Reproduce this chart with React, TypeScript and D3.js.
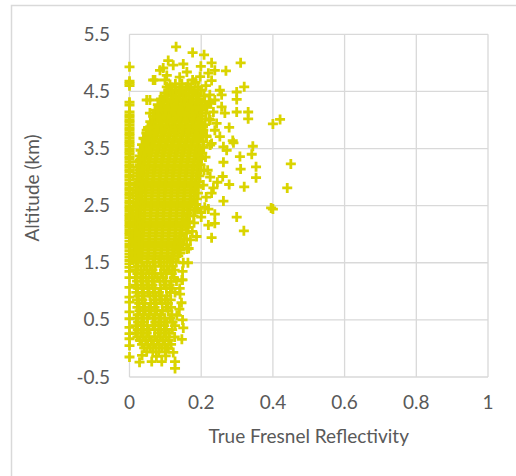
import React from "react";
import * as d3 from "d3";

const xTicks = [0, 0.2, 0.4, 0.6, 0.8, 1];
const yTicks = [-0.5, 0.5, 1.5, 2.5, 3.5, 4.5, 5.5];
const xTitle = "True Fresnel Reflectivity";
const yTitle = "Altitude (km)";

// returns with zero reflectivity (altitude, km)
const zeroReflectivityAltitudes = [
  4.93, 4.68, 4.64, 4.6, 4.31, 4.26, 4.14, 4.09, 4.05, 4.0, 3.96, 3.91, 3.86, 3.82,
  3.77, 3.73, 3.68, 3.63, 3.59, 3.55, 3.5, 3.45, 3.41, 3.36, 3.32, 3.27, 3.22, 3.18,
  3.13, 3.09, 3.04, 3.0, 2.95, 2.9, 2.86, 2.81, 2.77, 2.72, 2.68, 2.63, 2.58, 2.54,
  2.49, 2.45, 2.4, 2.35, 2.31, 2.26, 2.22, 2.17, 2.13, 2.08, 2.03, 1.99, 1.94, 1.88,
  1.82, 1.77, 1.71, 1.65, 1.6, 1.54, 1.48, 1.42, 1.35, 1.24, 1.07, 0.9, 0.81, 0.64,
  0.52, 0.37, 0.26, 0.17, 0.05, -0.15,
];

// dense cloud 2.5 - 4.65 km: [altitude, reflectivities]
const denseUpper: [number, number[]][] = [
  [4.63, [0.128, 0.146, 0.163]],
  [4.57, [0.118, 0.14, 0.158, 0.171, 0.192]],
  [4.52, [0.111, 0.128, 0.147, 0.166, 0.18, 0.2]],
  [4.47, [0.098, 0.118, 0.137, 0.156, 0.175, 0.19]],
  [4.42, [0.104, 0.121, 0.129, 0.148, 0.167, 0.186, 0.208]],
  [4.37, [0.088, 0.104, 0.121, 0.14, 0.159, 0.177, 0.193]],
  [4.32, [0.092, 0.105, 0.117, 0.135, 0.154, 0.172, 0.19, 0.21, 0.222]],
  [4.27, [0.079, 0.096, 0.114, 0.133, 0.151, 0.169, 0.188, 0.201]],
  [4.22, [0.083, 0.093, 0.109, 0.127, 0.146, 0.164, 0.182, 0.2, 0.216]],
  [4.17, [0.071, 0.088, 0.106, 0.124, 0.142, 0.16, 0.179, 0.194]],
  [4.12, [0.076, 0.087, 0.101, 0.119, 0.137, 0.156, 0.174, 0.192, 0.213]],
  [4.07, [0.066, 0.08, 0.098, 0.116, 0.134, 0.152, 0.17, 0.189, 0.201]],
  [4.02, [0.069, 0.081, 0.094, 0.112, 0.13, 0.148, 0.166, 0.184, 0.202, 0.222]],
  [3.97, [0.058, 0.073, 0.09, 0.108, 0.126, 0.144, 0.162, 0.18, 0.196]],
  [3.92, [0.063, 0.072, 0.087, 0.105, 0.123, 0.141, 0.159, 0.177, 0.195, 0.211]],
  [3.87, [0.052, 0.067, 0.084, 0.102, 0.12, 0.138, 0.156, 0.174, 0.19]],
  [3.82, [0.058, 0.066, 0.08, 0.098, 0.116, 0.134, 0.152, 0.17, 0.188, 0.206]],
  [3.77, [0.047, 0.06, 0.077, 0.095, 0.113, 0.131, 0.149, 0.167, 0.185, 0.197]],
  [3.72, [0.05, 0.061, 0.074, 0.092, 0.11, 0.128, 0.146, 0.164, 0.182, 0.2, 0.214]],
  [3.67, [0.042, 0.055, 0.071, 0.089, 0.107, 0.125, 0.143, 0.161, 0.179, 0.192]],
  [3.62, [0.046, 0.056, 0.068, 0.086, 0.104, 0.122, 0.14, 0.158, 0.176, 0.193, 0.206]],
  [3.57, [0.035, 0.049, 0.065, 0.083, 0.101, 0.119, 0.137, 0.155, 0.173, 0.188]],
  [3.52, [0.04, 0.051, 0.063, 0.081, 0.099, 0.117, 0.135, 0.153, 0.171, 0.189, 0.207]],
  [3.47, [0.031, 0.045, 0.061, 0.079, 0.097, 0.115, 0.133, 0.151, 0.169, 0.187, 0.196]],
  [3.42, [0.036, 0.047, 0.059, 0.077, 0.095, 0.113, 0.131, 0.149, 0.167, 0.185, 0.203]],
  [3.37, [0.028, 0.041, 0.057, 0.075, 0.093, 0.111, 0.129, 0.147, 0.165, 0.183, 0.194]],
  [3.32, [0.032, 0.043, 0.055, 0.073, 0.091, 0.109, 0.127, 0.145, 0.163, 0.181, 0.201]],
  [3.27, [0.025, 0.038, 0.054, 0.072, 0.09, 0.108, 0.126, 0.144, 0.162, 0.18, 0.191]],
  [3.22, [0.029, 0.041, 0.053, 0.071, 0.089, 0.107, 0.125, 0.143, 0.161, 0.179, 0.198]],
  [3.17, [0.024, 0.036, 0.052, 0.07, 0.088, 0.106, 0.124, 0.142, 0.16, 0.178, 0.19]],
  [3.12, [0.027, 0.039, 0.051, 0.069, 0.087, 0.105, 0.123, 0.141, 0.159, 0.177, 0.196, 0.208]],
  [3.07, [0.022, 0.034, 0.05, 0.068, 0.086, 0.104, 0.122, 0.14, 0.158, 0.176, 0.189]],
  [3.02, [0.026, 0.038, 0.049, 0.067, 0.085, 0.103, 0.121, 0.139, 0.157, 0.175, 0.195]],
  [2.97, [0.021, 0.033, 0.048, 0.066, 0.084, 0.102, 0.12, 0.138, 0.156, 0.174, 0.186]],
  [2.92, [0.025, 0.037, 0.047, 0.065, 0.083, 0.101, 0.119, 0.137, 0.155, 0.173, 0.193]],
  [2.87, [0.02, 0.032, 0.046, 0.064, 0.082, 0.1, 0.118, 0.136, 0.154, 0.172, 0.184]],
  [2.82, [0.024, 0.035, 0.046, 0.064, 0.082, 0.1, 0.118, 0.136, 0.154, 0.172, 0.19]],
  [2.77, [0.02, 0.031, 0.045, 0.063, 0.081, 0.099, 0.117, 0.135, 0.153, 0.171, 0.182]],
  [2.72, [0.023, 0.034, 0.045, 0.063, 0.081, 0.099, 0.117, 0.135, 0.153, 0.171, 0.191]],
  [2.67, [0.019, 0.03, 0.044, 0.062, 0.08, 0.098, 0.116, 0.134, 0.152, 0.17, 0.181]],
  [2.62, [0.022, 0.033, 0.044, 0.062, 0.08, 0.098, 0.116, 0.134, 0.152, 0.17, 0.188]],
  [2.57, [0.019, 0.03, 0.043, 0.061, 0.079, 0.097, 0.115, 0.133, 0.151, 0.169, 0.179]],
  [2.52, [0.021, 0.032, 0.043, 0.061, 0.079, 0.097, 0.115, 0.133, 0.151, 0.169, 0.186]],
];

// dense cloud 1.55 - 2.5 km
const denseMiddle: [number, number[]][] = [
  [2.47, [0.018, 0.029, 0.042, 0.06, 0.078, 0.096, 0.114, 0.132, 0.15, 0.164]],
  [2.42, [0.021, 0.031, 0.042, 0.06, 0.078, 0.096, 0.114, 0.132, 0.15, 0.168, 0.183]],
  [2.37, [0.018, 0.028, 0.041, 0.059, 0.077, 0.095, 0.113, 0.131, 0.149, 0.162]],
  [2.32, [0.02, 0.03, 0.041, 0.059, 0.077, 0.095, 0.113, 0.131, 0.149, 0.166, 0.179]],
  [2.27, [0.017, 0.028, 0.04, 0.058, 0.076, 0.094, 0.112, 0.13, 0.148, 0.158]],
  [2.22, [0.019, 0.029, 0.04, 0.058, 0.076, 0.094, 0.112, 0.13, 0.148, 0.166]],
  [2.17, [0.016, 0.027, 0.039, 0.057, 0.075, 0.093, 0.111, 0.129, 0.147, 0.157]],
  [2.12, [0.019, 0.029, 0.039, 0.057, 0.075, 0.093, 0.111, 0.129, 0.146, 0.164]],
  [2.07, [0.016, 0.026, 0.038, 0.056, 0.074, 0.092, 0.11, 0.128, 0.145]],
  [2.02, [0.018, 0.028, 0.038, 0.056, 0.074, 0.092, 0.11, 0.128, 0.144, 0.159]],
  [1.97, [0.015, 0.026, 0.037, 0.055, 0.073, 0.091, 0.109, 0.127, 0.141]],
  [1.92, [0.018, 0.027, 0.037, 0.055, 0.073, 0.091, 0.109, 0.127, 0.141, 0.153]],
  [1.87, [0.015, 0.025, 0.036, 0.054, 0.072, 0.09, 0.108, 0.126, 0.137]],
  [1.82, [0.017, 0.027, 0.036, 0.054, 0.072, 0.09, 0.108, 0.126, 0.139, 0.149]],
  [1.77, [0.015, 0.025, 0.035, 0.053, 0.071, 0.089, 0.107, 0.125, 0.134]],
  [1.72, [0.018, 0.026, 0.035, 0.053, 0.071, 0.089, 0.107, 0.124, 0.141]],
  [1.67, [0.015, 0.024, 0.034, 0.052, 0.07, 0.088, 0.106, 0.121]],
  [1.62, [0.017, 0.026, 0.034, 0.052, 0.07, 0.088, 0.106, 0.122, 0.136]],
  [1.57, [0.015, 0.024, 0.033, 0.051, 0.069, 0.087, 0.105, 0.118]],
];

// cloud below 1.55 km
const denseLower: [number, number[]][] = [
  [1.51, [0.018, 0.034, 0.049, 0.066, 0.082, 0.097, 0.113, 0.13]],
  [1.44, [0.024, 0.041, 0.057, 0.072, 0.089, 0.105, 0.12]],
  [1.37, [0.017, 0.032, 0.048, 0.064, 0.096, 0.111, 0.126]],
  [1.31, [0.022, 0.038, 0.055, 0.07, 0.087, 0.103, 0.118]],
  [1.24, [0.016, 0.031, 0.046, 0.063, 0.078, 0.094, 0.124]],
  [1.18, [0.021, 0.037, 0.053, 0.069, 0.085, 0.101, 0.116, 0.131]],
  [1.11, [0.017, 0.033, 0.048, 0.064, 0.096, 0.112]],
  [1.05, [0.023, 0.039, 0.055, 0.071, 0.087, 0.103, 0.119]],
  [0.98, [0.019, 0.035, 0.051, 0.066, 0.082, 0.114, 0.127]],
  [0.92, [0.025, 0.041, 0.057, 0.073, 0.089, 0.105]],
  [0.85, [0.021, 0.036, 0.068, 0.084, 0.1, 0.115]],
  [0.79, [0.027, 0.043, 0.059, 0.075, 0.091, 0.107]],
  [0.72, [0.022, 0.038, 0.054, 0.07, 0.102, 0.116]],
  [0.66, [0.028, 0.044, 0.06, 0.076, 0.092, 0.108]],
  [0.59, [0.023, 0.039, 0.055, 0.071, 0.087, 0.118]],
  [0.53, [0.019, 0.034, 0.05, 0.066, 0.082, 0.098, 0.113]],
  [0.46, [0.024, 0.04, 0.072, 0.088, 0.104, 0.12]],
  [0.4, [0.018, 0.033, 0.049, 0.065, 0.081, 0.097, 0.127]],
  [0.33, [0.023, 0.039, 0.055, 0.071, 0.087, 0.103, 0.119]],
  [0.27, [0.017, 0.032, 0.048, 0.08, 0.096, 0.111]],
  [0.2, [0.022, 0.038, 0.054, 0.07, 0.086, 0.102, 0.126]],
  [0.14, [0.029, 0.045, 0.061, 0.077, 0.093, 0.109]],
  [0.07, [0.035, 0.051, 0.067, 0.083, 0.099, 0.116]],
  [0.01, [0.041, 0.058, 0.074, 0.09, 0.106]],
  [-0.06, [0.048, 0.065, 0.082, 0.1]],
];

// sparse returns: [reflectivity, altitude]
const scatterPoints: [number, number][] = [
  [0.13, 5.28], [0.176, 5.18], [0.208, 5.14], [0.15, 4.98], [0.199, 4.94], [0.229, 5.0],
  [0.31, 5.0], [0.269, 4.86], [0.238, 4.87], [0.22, 4.82], [0.16, 4.84], [0.197, 4.76],
  [0.229, 4.69], [0.176, 4.7], [0.32, 4.58], [0.252, 4.52], [0.299, 4.49], [0.299, 4.36],
  [0.257, 4.44], [0.238, 4.35], [0.257, 4.23], [0.299, 4.14], [0.331, 4.14], [0.331, 4.02],
  [0.266, 4.12], [0.234, 4.14], [0.278, 3.87], [0.238, 3.82], [0.252, 3.71], [0.229, 3.59],
  [0.288, 3.64], [0.262, 3.53], [0.344, 3.54], [0.108, 5.04], [0.085, 4.87], [0.122, 4.96],
  [0.066, 4.7], [0.099, 4.7], [0.057, 4.35], [0.085, 4.35], [0.113, 4.62], [0.048, 3.82],
  [0.039, 3.68], [0.076, 4.06], [0.094, 4.91], [0.21, 4.23], [0.225, 4.0], [0.205, 3.88],
  [0.215, 3.71], [0.243, 3.94], [0.225, 3.56], [0.29, 3.6],
  [0.271, 3.47], [0.308, 3.36], [0.341, 3.4], [0.262, 3.26], [0.31, 3.14], [0.353, 3.18],
  [0.353, 2.99], [0.26, 3.01], [0.278, 2.87], [0.32, 2.83], [0.245, 2.91], [0.234, 2.81],
  [0.229, 2.72], [0.262, 2.58], [0.22, 2.44], [0.238, 2.35], [0.299, 2.3], [0.238, 2.19],
  [0.22, 2.16], [0.319, 2.06], [0.229, 1.94], [0.187, 1.96], [0.16, 1.81], [0.16, 1.74],
  [0.212, 3.35], [0.218, 3.12], [0.206, 2.86], [0.214, 2.65], [0.225, 3.0], [0.21, 2.47],
  [0.2, 2.38], [0.141, 1.67], [0.163, 1.5],
  [0.4, 3.93], [0.42, 4.01], [0.45, 3.23], [0.44, 2.81], [0.4, 2.44], [0.395, 2.46],
  [0.146, 1.2], [0.141, 0.95], [0.139, 0.69], [0.148, 0.5], [0.15, 0.36], [0.146, 0.16],
  [0.122, -0.07], [0.108, 0.0], [0.127, -0.23], [0.127, -0.35], [0.09, -0.23], [0.062, -0.23],
  [0.028, -0.24], [0.148, 1.2],
  [0.071, 4.7], [0.104, 4.58], [0.048, 4.35], [0.057, 4.12], [0.052, 3.86], [0.029, 3.3],
  [0.02, 2.77], [0.104, 4.78], [0.14, 4.75], [0.184, 4.66], [0.213, 4.6], [0.224, 4.44],
  [0.227, 4.29], [0.19, 2.45], [0.2, 2.3], [0.18, 2.2], [0.175, 2.05], [0.17, 1.9],
  [0.165, 1.75], [0.15, 1.5], [0.148, 1.35], [0.14, 1.05], [0.145, 0.8], [0.132, 0.58],
  [0.035, -0.12], [0.075, -0.14], [0.101, -0.13],
];

export default function App() {
  const W = 516;
  const H = 476;
  const x = d3.scaleLinear().domain([0, 1]).range([129.5, 488]);
  const y = d3.scaleLinear().domain([-0.5, 5.5]).range([377, 34.3]);

  const rows = [...denseUpper, ...denseMiddle, ...denseLower];
  const points: [number, number][] = [
    ...zeroReflectivityAltitudes.map((a) => [0, a] as [number, number]),
    ...rows.flatMap(([a, xs]) => xs.map((r) => [r, a] as [number, number])),
    ...scatterPoints,
  ];

  const grid = "#D9D9D9";
  const text = "#595959";
  const font = "Lato, 'Open Sans', sans-serif";
  const marker = "M-5,0H5M0,-5V5";

  return (
    <svg
      width={W}
      height={H}
      style={{ position: "absolute", left: 0, top: 0, background: "#fff" }}
    >
      <rect x={0} y={0} width={W} height={H} fill="#fff" />
      <rect x={11.5} y={5.5} width={W + 40} height={H + 40} fill="none" stroke={grid} strokeWidth={1.5} />
      {yTicks.map((t) => (
        <line key={"gy" + t} x1={x(0)} x2={x(1)} y1={y(t)} y2={y(t)} stroke={grid} strokeWidth={1.3} />
      ))}
      {xTicks.map((t) => (
        <line key={"gx" + t} x1={x(t)} x2={x(t)} y1={y(-0.5)} y2={y(5.5)} stroke={grid} strokeWidth={1.3} />
      ))}
      <g stroke="#DAD400" strokeWidth={2.8} fill="none">
        {points.map((p, i) => (
          <path key={i} d={marker} transform={`translate(${x(p[0])},${y(p[1])})`} />
        ))}
      </g>
      <g fontFamily={font} fontSize={19} fill={text}>
        {yTicks.map((t) => (
          <text key={"ty" + t} x={110} y={y(t) + 6.5} textAnchor="end">
            {String(t)}
          </text>
        ))}
        {xTicks.map((t) => (
          <text key={"tx" + t} x={x(t)} y={409} textAnchor="middle">
            {String(t)}
          </text>
        ))}
        <text x={(x(0) + x(1)) / 2} y={443} textAnchor="middle">
          {xTitle}
        </text>
        <text transform={`translate(39,188) rotate(-90)`} textAnchor="middle">
          {yTitle}
        </text>
      </g>
    </svg>
  );
}
